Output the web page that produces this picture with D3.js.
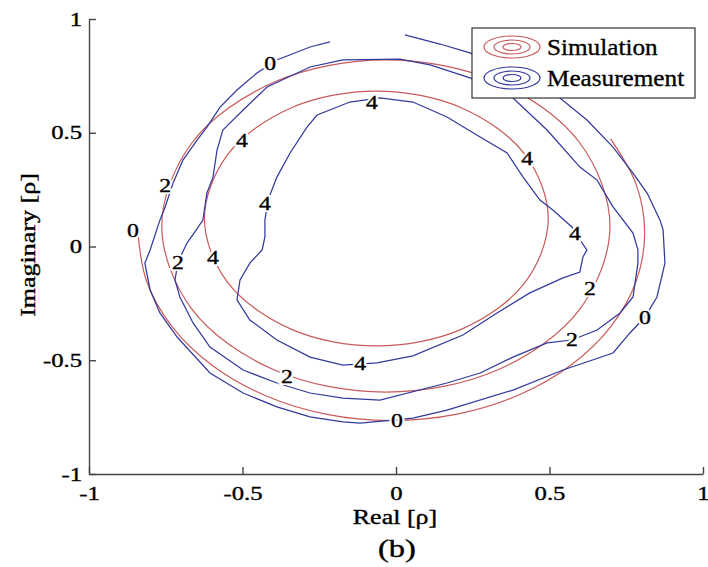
<!DOCTYPE html>
<html>
<head>
<meta charset="utf-8">
<script src="https://cdn.jsdelivr.net/npm/d3@7"></script>
<style>
  body { margin: 0; background: #fff; }
  text { font-family: "Liberation Serif", "Times New Roman", serif; fill: #000; }
  .ink { stroke: #000; stroke-width: 0.35px; }
</style>
</head>
<body>
<div id="chart"></div>
<script>
// axis ticks
const xTicks = [-1, -0.5, 0, 0.5, 1];
const yTicks = [-1, -0.5, 0, 0.5, 1];

// simulation contours (red)
const simLevel4 = [[0.496, 0.123], [0.421, 0.403], [0.216, 0.608], [-0.064, 0.683], [-0.344, 0.608],
  [-0.549, 0.403], [-0.624, 0.123], [-0.549, -0.157], [-0.344, -0.362], [-0.064, -0.437],
  [0.216, -0.362], [0.421, -0.157]];
const simLevel2 = [[0.697, 0.09], [0.599, 0.455], [0.332, 0.722], [-0.033, 0.82], [-0.398, 0.722],
  [-0.665, 0.455], [-0.763, 0.09], [-0.665, -0.275], [-0.398, -0.542], [-0.033, -0.64],
  [0.332, -0.542], [0.599, -0.275]];
const simLevel0 = [[-0.84, 0.05], [-0.812, -0.154], [-0.729, -0.353], [-0.598, -0.523], [-0.428, -0.654],
  [-0.229, -0.737], [-0.015, -0.765], [0.199, -0.737], [0.398, -0.654], [0.568, -0.523],
  [0.699, -0.353], [0.782, -0.154], [0.81, 0.06], [0.782, 0.274], [0.699, 0.473]];

// measurement contours (blue)
const measLevel4 = [[-0.052, 0.653], [-0.15, 0.635], [-0.257, 0.578], [-0.29, 0.525], [-0.345, 0.411],
  [-0.388, 0.305], [-0.417, 0.204], [-0.427, 0.116], [-0.427, 0.042], [-0.436, -0.015],
  [-0.476, -0.073], [-0.508, -0.147], [-0.518, -0.235], [-0.476, -0.323], [-0.388, -0.411],
  [-0.28, -0.486], [-0.173, -0.521], [-0.062, -0.512], [0.055, -0.481], [0.218, -0.389],
  [0.329, -0.292], [0.436, -0.204], [0.544, -0.138], [0.599, -0.112], [0.609, -0.046],
  [0.622, -0.015], [0.599, 0.029], [0.573, 0.086], [0.511, 0.16], [0.469, 0.204],
  [0.414, 0.305], [0.362, 0.411], [0.274, 0.481], [0.166, 0.569], [0.055, 0.635]];
const measLevel2 = [[0.013, 0.824], [-0.173, 0.82], [-0.28, 0.789], [-0.42, 0.701], [-0.498, 0.6],
  [-0.564, 0.512], [-0.583, 0.424], [-0.596, 0.305], [-0.616, 0.235], [-0.629, 0.116],
  [-0.655, 0.064], [-0.681, 0.015], [-0.71, -0.068], [-0.72, -0.147], [-0.704, -0.222],
  [-0.661, -0.336], [-0.606, -0.442], [-0.498, -0.543], [-0.388, -0.6], [-0.28, -0.644],
  [-0.173, -0.666], [-0.052, -0.675], [0.166, -0.6], [0.274, -0.556], [0.381, -0.486],
  [0.492, -0.424], [0.573, -0.411], [0.655, -0.367], [0.73, -0.292], [0.772, -0.222],
  [0.788, -0.073], [0.788, -0.015], [0.772, 0.059], [0.707, 0.174], [0.655, 0.292],
  [0.599, 0.349], [0.492, 0.512], [0.381, 0.653], [0.306, 0.705], [0.241, 0.741], [0.111, 0.798]];
const measLevel0 = [[-0.215, 0.899], [-0.28, 0.877], [-0.388, 0.82], [-0.453, 0.763], [-0.518, 0.688],
  [-0.573, 0.613], [-0.616, 0.525], [-0.648, 0.468], [-0.694, 0.38], [-0.726, 0.279],
  [-0.752, 0.174], [-0.769, 0.116], [-0.801, -0.015], [-0.818, -0.073], [-0.801, -0.191],
  [-0.769, -0.292], [-0.713, -0.398], [-0.606, -0.556], [-0.498, -0.644], [-0.388, -0.705],
  [-0.28, -0.749], [-0.173, -0.771], [-0.117, -0.776], [-0.01, -0.763], [0.055, -0.754],
  [0.166, -0.719], [0.381, -0.631], [0.544, -0.543], [0.707, -0.468], [0.762, -0.38],
  [0.811, -0.31], [0.85, -0.222], [0.876, -0.073], [0.87, 0.073], [0.86, 0.116],
  [0.818, 0.235], [0.772, 0.323], [0.707, 0.437], [0.622, 0.556], [0.534, 0.653],
  [0.404, 0.749], [0.241, 0.851], [0.143, 0.89], [0.029, 0.93]];

// contour level labels
const labelText = ['0', '4', '4', '4', '2', '4', '0', '4', '2', '4', '2', '0', '2', '4', '2', '0'];
const labelX = [-0.41, -0.078, -0.502, 0.427, -0.752, -0.427, -0.857, 0.583, -0.71, -0.596, 0.632, 0.811, 0.573, -0.117, -0.355, 0.003];
const labelY = [0.807, 0.635, 0.468, 0.389, 0.27, 0.191, 0.073, 0.059, -0.068, -0.046, -0.182, -0.31, -0.407, -0.512, -0.569, -0.763];

const legendNames = ['Simulation', 'Measurement'];

const red = '#c95a5a', blue = '#333a9c';
const W = 708, H = 567;
const margin = {left: 89, top: 19, right: 5, bottom: 93};

const svg = d3.select('#chart').append('svg')
  .attr('width', W).attr('height', H);

const x = d3.scaleLinear().domain([-1, 1]).range([margin.left, W - margin.right]);
const y = d3.scaleLinear().domain([-1, 1]).range([H - margin.bottom, margin.top]);

// stretch text horizontally like the original
function stretch(sel, k) {
  sel.each(function () {
    const w = this.getComputedTextLength();
    d3.select(this).attr('textLength', w * k).attr('lengthAdjust', 'spacingAndGlyphs');
  });
}

// contour lines
const line = d3.line().x(d => x(d[0])).y(d => y(d[1]));
const g = svg.append('g');

[[simLevel4, d3.curveCatmullRomClosed], [simLevel2, d3.curveCatmullRomClosed], [simLevel0, d3.curveCatmullRom]]
  .forEach(([pts, curve]) => {
    g.append('path')
      .attr('d', line.curve(curve)(pts))
      .attr('fill', 'none')
      .attr('stroke', red)
      .attr('stroke-width', 1.2);
  });

[[measLevel4, d3.curveLinearClosed], [measLevel2, d3.curveLinearClosed], [measLevel0, d3.curveLinear]]
  .forEach(([pts, curve]) => {
    g.append('path')
      .attr('d', line.curve(curve)(pts))
      .attr('fill', 'none')
      .attr('stroke', blue)
      .attr('stroke-width', 1.25);
  });

// contour labels: white halo first, then the digit
['halo', 'ink'].forEach(cls => {
  const t = g.selectAll('.clabel-' + cls)
    .data(labelText)
    .enter().append('text')
    .attr('class', 'clabel-' + cls + (cls === 'ink' ? ' ink' : ''))
    .attr('x', (d, i) => x(labelX[i]))
    .attr('y', (d, i) => y(labelY[i]))
    .attr('dy', '0.35em')
    .attr('text-anchor', 'middle')
    .style('font-size', '19px')
    .text(d => d);
  if (cls === 'halo') t.style('fill', '#fff').style('stroke', '#fff').style('stroke-width', 4);
  stretch(t, 1.25);
});

// axes
const xAxis = svg.append('g')
  .attr('transform', `translate(0,${y(-1)})`)
  .call(d3.axisBottom(x).tickValues(xTicks).tickFormat(d => String(d))
    .tickSizeInner(-7).tickSizeOuter(0).tickPadding(13));
const yAxis = svg.append('g')
  .attr('transform', `translate(${x(-1)},0)`)
  .call(d3.axisLeft(y).tickValues(yTicks).tickFormat(d => String(d))
    .tickSizeInner(-7).tickSizeOuter(0).tickPadding(7));

[xAxis, yAxis].forEach(a => {
  a.select('.domain').attr('stroke', '#444').attr('stroke-width', 1.4);
  a.selectAll('.tick line').attr('stroke', '#444').attr('stroke-width', 1.4);
  a.selectAll('.tick text')
    .attr('class', 'ink')
    .style('font-family', '"Liberation Serif", serif')
    .style('font-size', '19px')
    .attr('fill', '#000');
  stretch(a.selectAll('.tick text'), 1.3);
});

// axis titles
const xt = svg.append('text')
  .attr('class', 'ink')
  .attr('x', 395).attr('y', 524)
  .attr('text-anchor', 'middle')
  .style('font-size', '20px')
  .text('Real [ρ]');
stretch(xt, 1.3);

const yt = svg.append('text')
  .attr('class', 'ink')
  .attr('transform', 'translate(35,245) rotate(-90)')
  .attr('text-anchor', 'middle')
  .style('font-size', '20px')
  .text('Imaginary [ρ]');
stretch(yt, 1.3);

const cap = svg.append('text')
  .attr('class', 'ink')
  .attr('x', 397).attr('y', 557)
  .attr('text-anchor', 'middle')
  .style('font-size', '25px')
  .text('(b)');
stretch(cap, 1.3);

// legend
const lg = svg.append('g').attr('transform', 'translate(472,28)');
lg.append('rect')
  .attr('width', 223).attr('height', 70)
  .attr('fill', '#fff').attr('stroke', '#333').attr('stroke-width', 1.2);

const legendColors = [red, blue];
legendNames.forEach((name, i) => {
  const row = lg.append('g').attr('transform', `translate(40,${19 + i * 31})`);
  [[28, 11], [18, 7], [9, 3.5]].forEach(([rx, ry]) => {
    row.append('ellipse')
      .attr('rx', rx).attr('ry', ry)
      .attr('fill', 'none')
      .attr('stroke', legendColors[i])
      .attr('stroke-width', 1.2);
  });
  const t = row.append('text')
    .attr('class', 'ink')
    .attr('x', 35).attr('y', 8)
    .style('font-size', '24px')
    .text(name);
  stretch(t, 1.05);
});
</script>
</body>
</html>
